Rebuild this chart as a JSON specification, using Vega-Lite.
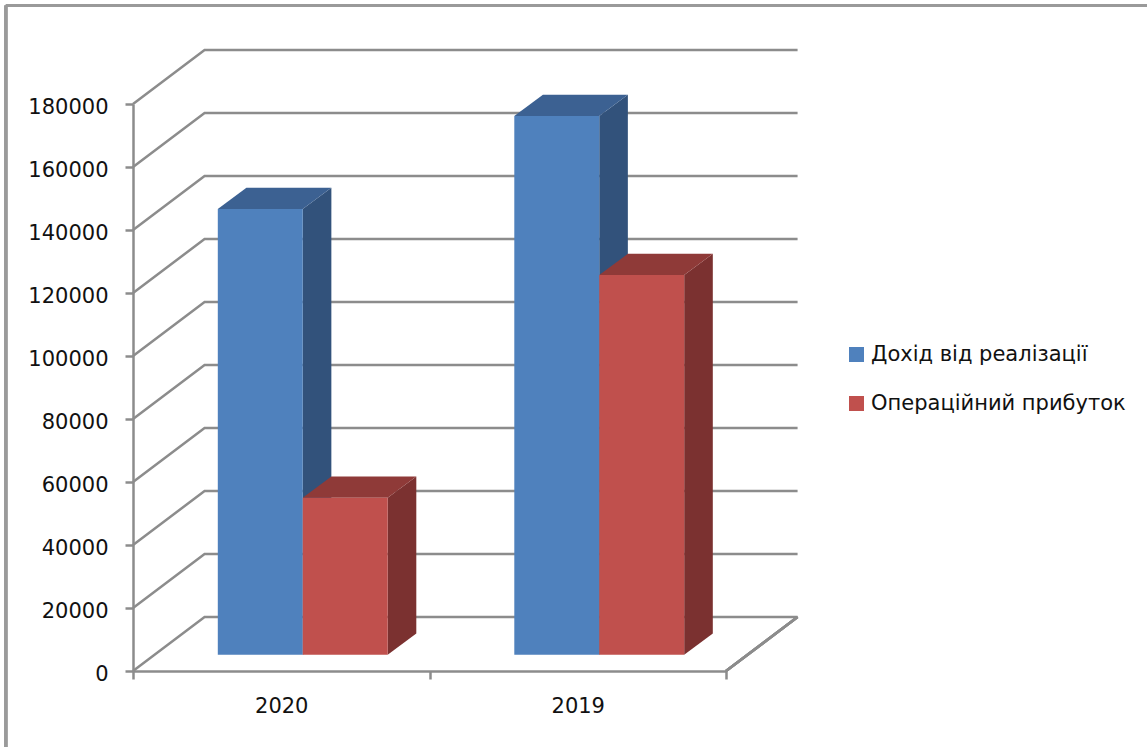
{
"$schema":"https://vega.github.io/schema/vega-lite/v6.json",
"width":593,"height":567,
"autosize":{"type":"none"},
"padding":{"left":133,"top":104,"right":421,"bottom":76},
"background":"#ffffff",
"view":{"stroke":null},
"config":{"axis":{"grid":false,"labelFont":"DejaVu Sans","labelFontSize":21,"labelColor":"#111111","domainColor":"#8c8c8c","tickColor":"#8c8c8c","domainWidth":2.5,"tickWidth":2.5,"tickSize":8,"title":null}},
"resolve":{"axis":{"x":"independent","y":"independent"}},
"data":{"values":[
{"year":"2020","series":"Дохід від реалізації","value":141500},
{"year":"2020","series":"Операційний прибуток","value":49800},
{"year":"2019","series":"Дохід від реалізації","value":171000},
{"year":"2019","series":"Операційний прибуток","value":120500}
]},
"layer":[
{"data":{"values":[{"tick":0},{"tick":20000},{"tick":40000},{"tick":60000},{"tick":80000},{"tick":100000},{"tick":120000},{"tick":140000},{"tick":160000},{"tick":180000}]},
"transform":[{"calculate":"[0,1,2]","as":"k"},{"flatten":["k"]},
{"calculate":"datum.k==0?0:(datum.k==1?0.2414:2.2414)","as":"gx"},
{"calculate":"datum.k==0?datum.tick:datum.tick+17143","as":"gy"}],
"mark":{"type":"line","stroke":"#8c8c8c","strokeWidth":2.5,"clip":false},
"encoding":{
"x":{"field":"gx","type":"quantitative","scale":{"domain":[0,2],"nice":false,"zero":false},
"axis":{"values":[0,0.5,1,1.5,2],"labelExpr":"datum.value==0.5?'2020':(datum.value==1.5?'2019':'')","tickOpacity":{"condition":{"test":"datum.value==0.5||datum.value==1.5","value":0},"value":1},"labelPadding":16,"labelFlush":false,"labelOverlap":false}},
"y":{"field":"gy","type":"quantitative","scale":{"domain":[0,180000],"nice":false,"zero":false},
"axis":{"values":[0,20000,40000,60000,80000,100000,120000,140000,160000,180000],"format":"d","labelPadding":17,"labelOffset":3,"labelOverlap":false,"labelFlush":false}},
"detail":{"field":"tick"}}},
{"mark":{"type":"rule","stroke":"#8c8c8c","strokeWidth":2.5},
"encoding":{"x":{"datum":2,"type":"quantitative","axis":null},"x2":{"datum":2.2414},"y":{"datum":0,"type":"quantitative","axis":null},"y2":{"datum":17143}}},
{"mark":{"type":"rule","stroke":"#9a9a9a","strokeWidth":3},
"encoding":{"x":{"datum":-0.4287,"type":"quantitative","axis":null},"y":{"datum":-24127,"type":"quantitative","axis":null},"y2":{"datum":211270}}},
{"mark":{"type":"rule","stroke":"#9a9a9a","strokeWidth":3},
"encoding":{"x":{"datum":-0.4287,"type":"quantitative","axis":null},"x2":{"datum":3.42},"y":{"datum":211270,"type":"quantitative","axis":null}}},
{"transform":[
{"calculate":"(datum.year=='2020'?0:1)+0.286+(datum.series=='Дохід від реалізації'?0:0.2865)","as":"xL"},
{"calculate":"datum.xL+0.2865","as":"xR"},
{"calculate":"5175+datum.value","as":"yT"},
{"calculate":"[0,1]","as":"k"},{"flatten":["k"]},
{"calculate":"datum.xR+datum.k*0.0965","as":"sx"},
{"calculate":"5175+datum.k*6762","as":"sb"},
{"calculate":"datum.yT+datum.k*6762","as":"st"}],
"mark":{"type":"area","orient":"vertical","clip":false},
"encoding":{
"x":{"field":"sx","type":"quantitative","axis":null},
"y":{"field":"sb","type":"quantitative","axis":null,"stack":null},
"y2":{"field":"st"},
"detail":[{"field":"year"},{"field":"series"}],
"fill":{"condition":{"test":"datum.series=='Дохід від реалізації'","value":"#32527b"},"value":"#7b3130"}}},
{"transform":[
{"calculate":"(datum.year=='2020'?0:1)+0.286+(datum.series=='Дохід від реалізації'?0:0.2865)","as":"xL"},
{"calculate":"datum.xL+0.2865","as":"xR"},
{"calculate":"5175+datum.value","as":"yT"},
{"calculate":"[0,1]","as":"k"},{"flatten":["k"]},
{"calculate":"datum.xL+datum.k*0.0965","as":"tl"},
{"calculate":"datum.xR+datum.k*0.0965","as":"tr"},
{"calculate":"datum.yT+datum.k*6762","as":"ty"}],
"mark":{"type":"area","orient":"horizontal","clip":false},
"encoding":{
"y":{"field":"ty","type":"quantitative","axis":null},
"x":{"field":"tl","type":"quantitative","axis":null,"stack":null},
"x2":{"field":"tr"},
"detail":[{"field":"year"},{"field":"series"}],
"fill":{"condition":{"test":"datum.series=='Дохід від реалізації'","value":"#3c6192"},"value":"#8f3a38"}}},
{"transform":[
{"calculate":"(datum.year=='2020'?0:1)+0.286+(datum.series=='Дохід від реалізації'?0:0.2865)","as":"xL"},
{"calculate":"datum.xL+0.2865","as":"xR"},
{"calculate":"5175+datum.value","as":"yT"},
{"calculate":"5175","as":"yB"}],
"mark":{"type":"rect","clip":false},
"encoding":{
"x":{"field":"xL","type":"quantitative","axis":null},
"x2":{"field":"xR"},
"y":{"field":"yB","type":"quantitative","axis":null},
"y2":{"field":"yT"},
"color":{"field":"series","type":"nominal","sort":null,
"scale":{"domain":["Дохід від реалізації","Операційний прибуток"],"range":["#4f81bd","#c0504d"]},
"legend":{"title":null,"orient":"none","legendX":713,"legendY":240,"padding":0,"symbolType":"square","symbolSize":225,"symbolStrokeWidth":0,"symbolOpacity":1,"labelFont":"DejaVu Sans","labelFontSize":21,"labelColor":"#111111","labelOffset":4,"rowPadding":27,"labelLimit":400}}}}
]
}
